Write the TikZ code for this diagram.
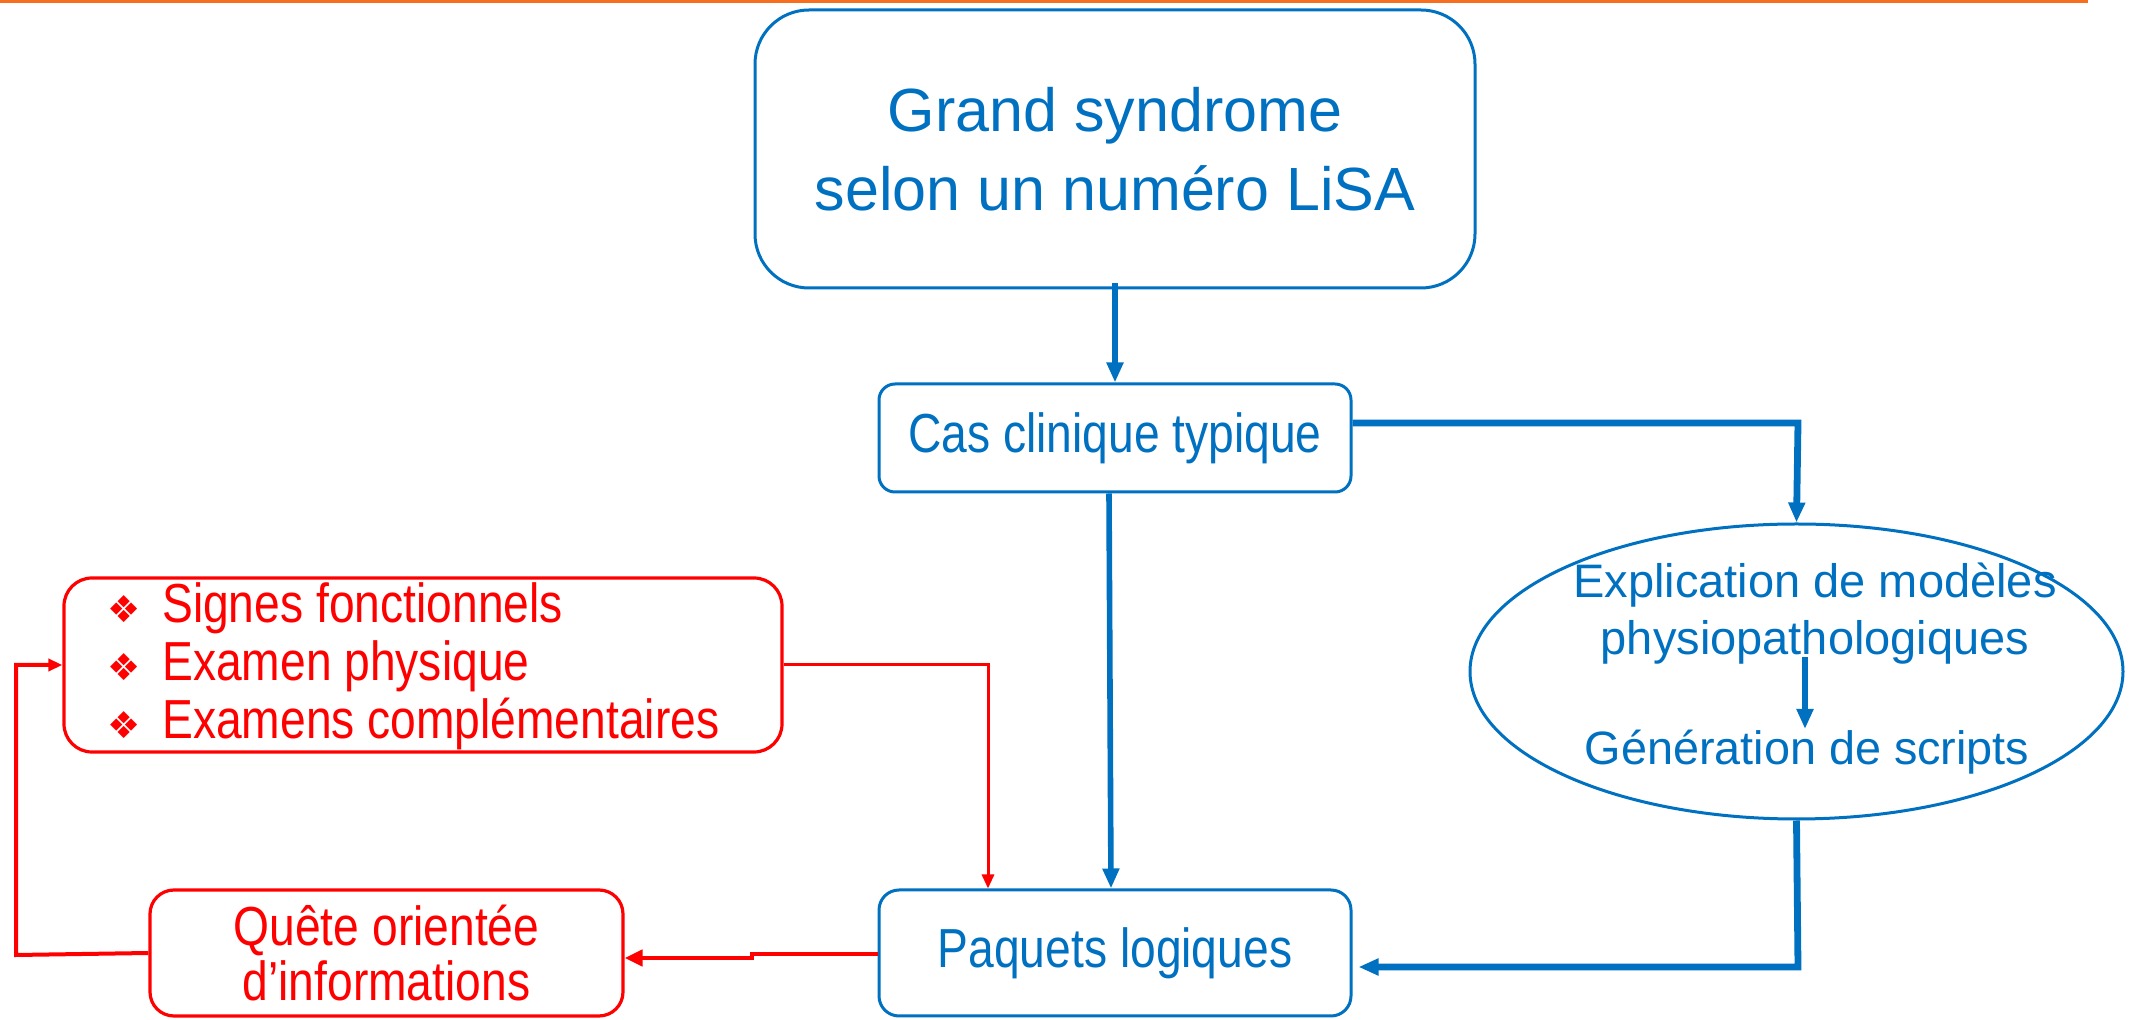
\documentclass[tikz,border=0pt]{standalone}
\usepackage{fontspec}
\setmainfont{Liberation Sans}
\newfontfamily\narrowfont[FakeStretch=0.84]{Liberation Sans}
\newfontfamily\symfont{DejaVu Sans}
\usetikzlibrary{arrows.meta,shapes.geometric,calc}
\definecolor{bl}{RGB}{0,112,192}
\definecolor{rd}{RGB}{255,0,0}
\definecolor{orng}{RGB}{247,110,30}
\newcommand{\dbul}{{\symfont\fontsize{18.5}{18.5}\selectfont ❖}\hspace{11pt}}
\tikzset{
  bbox/.style={draw=bl, rounded corners=#1, line width=1.5pt, text=bl, align=center},
  rbox/.style={draw=rd, rounded corners=#1, line width=1.6pt, text=rd, align=center},
  barrow/.style={draw=bl, line width=2.6pt, -{Triangle[length=10pt,width=8pt]}},
  rarrow/.style={draw=rd, line width=1.5pt, -{Triangle[length=7pt,width=6pt]}},
}
\begin{document}
\begin{tikzpicture}[x=0.5pt,y=-0.5pt]
\useasboundingbox (0,0) rectangle (2133,1020);
\draw[orng, line width=1.5pt] (0,1.5) -- (2088,1.5);
% nodes
\node[bbox=27pt, minimum width=360pt, minimum height=139pt, font=\fontsize{30.5}{39.5}\selectfont] (top) at (1115,149) {Grand syndrome\\selon un numéro LiSA};
\node[bbox=8pt, minimum width=236pt, minimum height=54pt, font=\narrowfont\fontsize{27.5}{30}\selectfont] (cas) at (1115,438) {Cas clinique typique};
\node[bbox=10pt, minimum width=236pt, minimum height=63pt, font=\narrowfont\fontsize{27.5}{30}\selectfont] (paq) at (1115,953) {Paquets logiques};
\node[rbox=12pt, minimum width=236.5pt, minimum height=63pt, font=\narrowfont\fontsize{27.5}{27.5}\selectfont] (quete) at (386.5,953) {Quête orientée\\d’informations};
\node[rbox=14pt, minimum width=359pt, minimum height=87pt] (signes) at (423,665) {};
\node[anchor=west, text=rd, align=left, font=\narrowfont\fontsize{27.5}{29}\selectfont] (signtxt) at (100,666) {\dbul Signes fonctionnels\\\dbul Examen physique\\\dbul Examens complémentaires};
\node[draw=bl, line width=1.5pt, ellipse, minimum width=326.5pt, minimum height=147.5pt] (ell) at (1796.5,671.5) {};
\node[text=bl, align=center, font=\fontsize{23.5}{28.5}\selectfont] (expl) at (1815,614) {Explication de modèles\\physiopathologiques};
\node[text=bl, font=\fontsize{23.4}{25}\selectfont] (gen) at (1807,752) {Génération de scripts};
\coordinate (ia) at (1805,657);
\coordinate (ib) at (1805,729);
\coordinate (rbend1) at (988,665);
\coordinate (cbend) at (1798,423);
\coordinate (ebend) at (1798,967);
\coordinate (pstep) at (752,954);
\coordinate (pstep2) at (752,958);
\coordinate (qbend1) at (16,955);
\coordinate (qbend2) at (16,665);
% connectors
\draw[barrow, line width=2.8pt] ($(top.south)+(0,-6)$) -- (cas.north);
\draw[barrow, line width=2.8pt] ($(cas.south)+(-6,0)$) -- ($(paq.north)+(-4,0)$);
\draw[barrow, line width=3.4pt] ($(cas.east)+(0,-15)$) -- (cbend) -- (ell.north);
\draw[barrow, line width=3.4pt] (ell.south) -- (ebend) -- ($(paq.east)+(6,14)$);
\draw[barrow, line width=2.6pt] (ia) -- (ib);
\draw[rarrow] (signes.east) -- (rbend1) -- (rbend1 |- paq.north);
\draw[rarrow, line width=2.2pt, -{Triangle[length=9pt,width=8pt]}] (paq.west |- pstep) -- (pstep) -- (pstep2) -- (pstep2 -| quete.east);
\draw[rarrow, line width=2pt] (quete.west) -- (qbend1) -- (qbend2) -- (signes.west);
\end{tikzpicture}
\end{document}
